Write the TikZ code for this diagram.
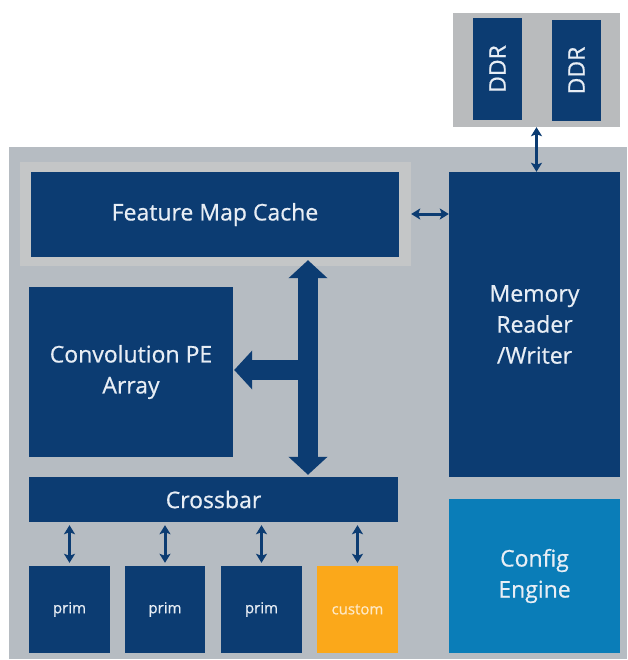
\documentclass[tikz,border=0pt]{standalone}
\usepackage{fontspec}
\setmainfont[AutoFakeBold=1]{Open Sans}
\newfontfamily\labelfont[FakeBold=0.6]{Open Sans}
\usetikzlibrary{arrows.meta,calc}

\definecolor{navy}{HTML}{0C3C72}
\definecolor{cfgblue}{HTML}{0A7DB8}
\definecolor{amber}{HTML}{FBA81A}
\definecolor{panel}{HTML}{B6BCC2}
\definecolor{halo}{HTML}{C4C6C7}
\definecolor{ddrgray}{HTML}{B9BBBD}
\definecolor{pale}{HTML}{E8EEF5}

\tikzset{
  blk/.style={draw=none, fill=navy, text=pale, inner sep=0pt, align=center,
    font=\labelfont\fontsize{23}{31}\selectfont},
  small/.style={blk, font=\labelfont\fontsize{15}{18}\selectfont},
  link/.style={draw=navy, line width=3pt,
    {Stealth[width=11pt,length=9pt,inset=2pt]}-{Stealth[width=11pt,length=9pt,inset=2pt]}},
  bus/.style={draw=navy, line width=20pt},
  bustip/.tip={Triangle[width=38pt,length=18pt]}
}

\begin{document}
\begin{tikzpicture}[x=1pt,y=-1pt]
\useasboundingbox (0,0) rectangle (627,660);
\fill[white] (0,0) rectangle (627,660);

% accelerator panel and external memory holder
\fill[panel] (9,147) rectangle (627,659);
\node[fill=ddrgray, inner sep=0pt, minimum width=167pt, minimum height=114pt] (ddrbox) at (536.5,70) {};
\node[blk, minimum width=102pt, minimum height=49pt, rotate=90] (ddra) at (497.5,69) {DDR};
\node[blk, minimum width=101pt, minimum height=49pt, rotate=90] (ddrb) at (576.5,70.5) {DDR};

% feature map cache with its lighter surround
\node[fill=halo, inner sep=0pt, minimum width=391pt, minimum height=104pt] (fmchalo) at (215.5,214) {};
\node[blk, minimum width=368pt, minimum height=85pt] (fmc) at (215,214.5) {Feature Map Cache};

% main blocks
\node[blk, minimum width=204pt, minimum height=170pt] (conv) at (131,372) {Convolution PE\\Array};
\node[blk, minimum width=171pt, minimum height=305pt] (mem) at (534.5,324.5) {Memory\\Reader\\/Writer};
\node[blk, fill=cfgblue, text=pale, minimum width=171pt, minimum height=154pt] (cfg) at (534.5,576) {Config\\Engine};
\node[blk, minimum width=369pt, minimum height=45pt] (xbar) at (213.5,499.5) {Crossbar};

% primitive slots
\node[small, minimum width=81pt, minimum height=87pt] (p1) at (69.5,609.5) {prim};
\node[small, minimum width=80pt, minimum height=87pt] (p2) at (165,609.5) {prim};
\node[small, minimum width=81pt, minimum height=87pt] (p3) at (261.5,609.5) {prim};
\node[small, fill=amber, text=amber!25!white, minimum width=81pt, minimum height=87pt] (cust) at (357.5,609.5) {custom};

% wide data bus: cache <-> crossbar, branch to the PE array
\coordinate (bx) at (308,0);
\draw[bus, bustip-bustip] ($(fmc.south -| bx)+(0,3)$) -- ($(xbar.north -| bx)+(0,-2)$);
\draw[bus, -bustip] ($(bx |- conv.east)+(10,-2)$) -- ($(conv.east)+(1,-2)$);

% narrow links
\draw[link] (mem.north -| ddrbox.south) -- (ddrbox.south);
\draw[link] (fmchalo.east) -- (mem.west |- fmchalo.east);
\draw[link, shorten <=3pt, shorten >=3pt] (xbar.south -| p1.north) -- (p1.north);
\draw[link, shorten <=3pt, shorten >=3pt] (xbar.south -| p2.north) -- (p2.north);
\draw[link, shorten <=3pt, shorten >=3pt] (xbar.south -| p3.north) -- (p3.north);
\draw[link, shorten <=3pt, shorten >=3pt] (xbar.south -| cust.north) -- (cust.north);
\end{tikzpicture}
\end{document}
